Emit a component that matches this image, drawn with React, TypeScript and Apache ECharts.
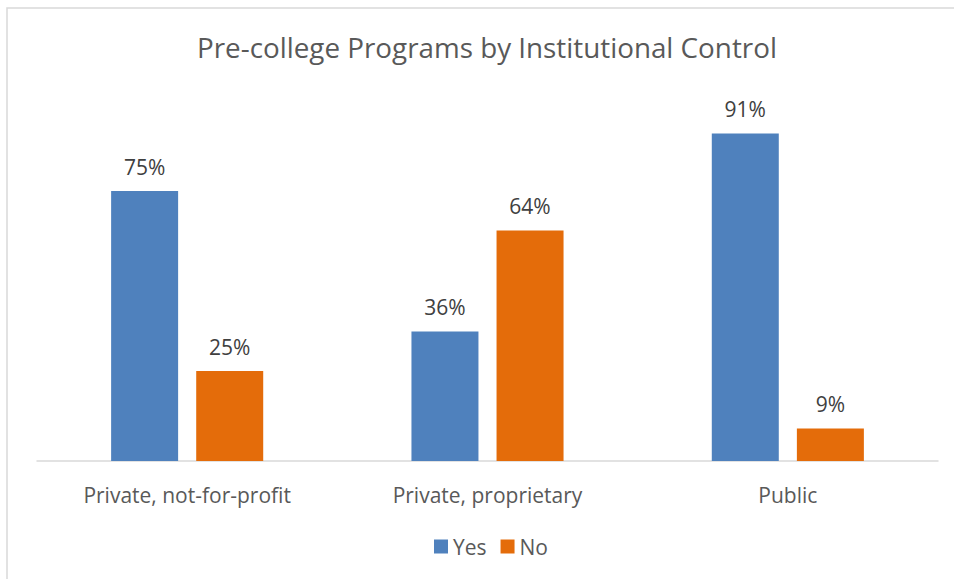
import React, { useEffect, useRef } from "react";
import * as echarts from "echarts";

const categories = ["Private, not-for-profit", "Private, proprietary", "Public"];
const yesValues = [75, 36, 91];
const noValues = [25, 64, 9];
const seriesNames = ["Yes", "No"];
const titleText = "Pre-college Programs by Institutional Control";

export default function App() {
  const ref = useRef<HTMLDivElement>(null);
  useEffect(() => {
    if (!ref.current) return;
    const chart = echarts.init(ref.current, null, { renderer: "svg" });
    const font = "'Open Sans', 'Liberation Sans', sans-serif";
    const labelStyle = {
      show: true,
      position: "top" as const,
      distance: 14,
      formatter: "{c}%",
      color: "#404040",
      fontSize: 21,
      fontFamily: font,
    };
    chart.setOption({
      animation: false,
      backgroundColor: "#ffffff",
      title: {
        text: titleText,
        left: 192,
        top: 28,
        textStyle: { color: "#595959", fontSize: 27.8, fontWeight: "normal", fontFamily: font },
      },
      graphic: [
        {
          type: "rect",
          shape: { x: 7, y: 8, width: 1000, height: 700 },
          style: { fill: "none", stroke: "#d9d9d9", lineWidth: 1.5 },
          silent: true,
        },
      ],
      legend: {
        data: seriesNames,
        top: 531,
        left: 429,
        itemWidth: 14,
        itemHeight: 14,
        itemGap: 14,
        icon: "rect",
        textStyle: { color: "#595959", fontSize: 21, fontFamily: font },
      },
      grid: { left: 37, right: 16, top: 101, bottom: 118, containLabel: false },
      xAxis: {
        type: "category",
        data: categories,
        axisLine: { lineStyle: { color: "#d9d9d9", width: 1.5 } },
        axisTick: { show: false },
        axisLabel: { color: "#595959", fontSize: 21, fontFamily: font, margin: 23 },
      },
      yAxis: {
        type: "value",
        min: 0,
        max: 100,
        show: false,
        splitLine: { show: false },
      },
      series: [
        {
          name: seriesNames[0],
          type: "bar",
          data: yesValues,
          barWidth: 67,
          barGap: "27%",
          itemStyle: { color: "#4f81bd" },
          label: labelStyle,
        },
        {
          name: seriesNames[1],
          type: "bar",
          data: noValues,
          barWidth: 67,
          barGap: "27%",
          itemStyle: { color: "#e46c0a" },
          label: labelStyle,
        },
      ],
    });
    return () => chart.dispose();
  }, []);
  return (
    <div
      ref={ref}
      style={{ position: "fixed", left: 0, top: 0, width: 954, height: 579 }}
    />
  );
}
